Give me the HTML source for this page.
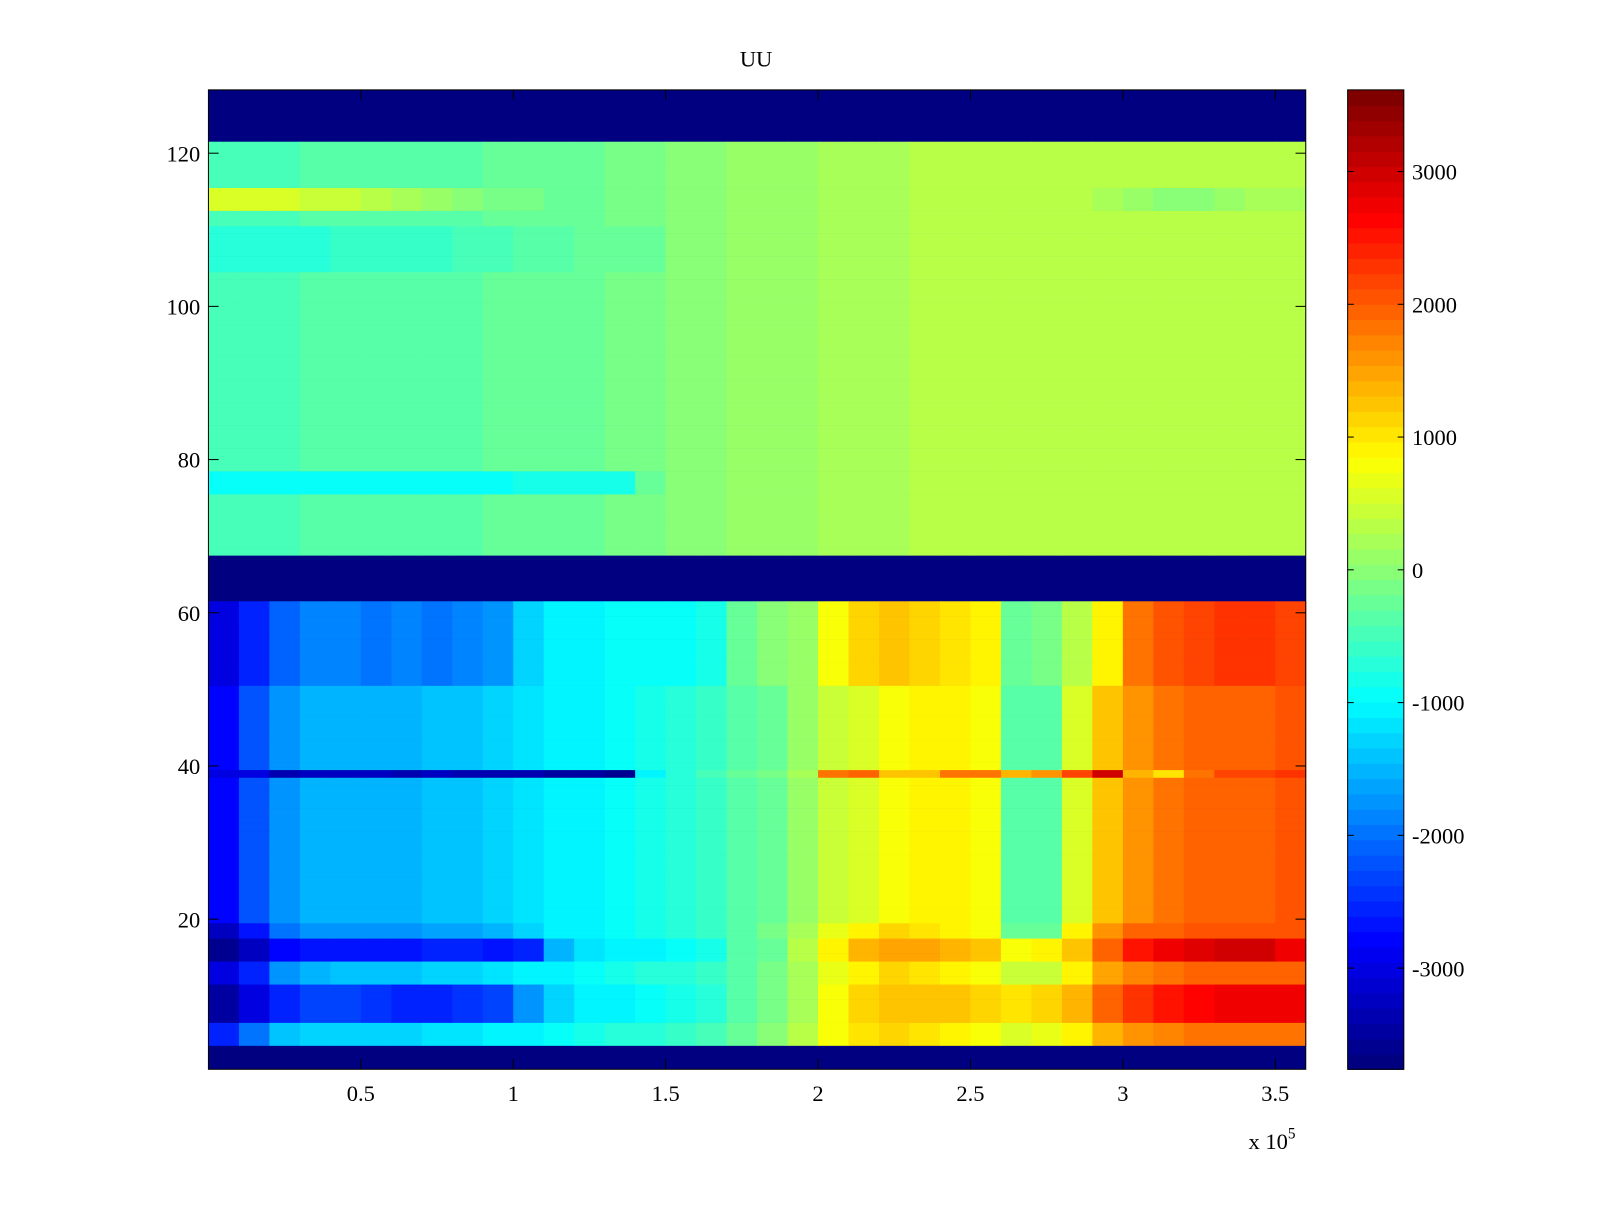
<!DOCTYPE html>
<html><head><meta charset="utf-8"><style>
body{margin:0;background:#fff;}
svg text{font-family:"Liberation Serif",serif;font-size:22px;fill:#000;}
</style></head><body>
<svg id="fig" width="1600" height="1200" viewBox="0 0 1566 1175" preserveAspectRatio="none" xmlns="http://www.w3.org/2000/svg">
<rect width="1566" height="1175" fill="#fff"/>
<text x="740" y="65" text-anchor="middle">UU</text>
<g id="cells"></g>
<g id="cbar"></g>
<g id="axes"></g>
<text x="1222" y="1125">x 10<tspan dy="-10" font-size="15">5</tspan></text>
</svg>
<script>
const vMin = -3762, vMax = 3615;
const nRows = 128;
const xTicks = [0.5,1,1.5,2,2.5,3,3.5];
const xTickLabels = ["0.5","1","1.5","2","2.5","3","3.5"];
const yTicks = [20,40,60,80,100,120];
const cbTicks = [-3000,-2000,-1000,0,1000,2000,3000];
const colStart = 0, colWidth = 0.1;
const bandRows = [
 [4,6],[7,11],[12,14],[15,17],[18,19],[20,36],[37,38],[39,39],[40,50],[51,61],
 [68,75],[76,78],[79,104],[105,110],[111,112],[113,115],[116,121]
];
const general = [-2800,-2200,-1700,-1500,-1500,-1500,-1500,-1400,-1400,-1300,-1200,-1100,-1000,-900,-800,-700,-600,-400,-200,100,400,600,800,900,900,800,-400,-400,600,1300,1600,1800,1900,2000,2000,2100];
const upper = [-500,-450,-450,-400,-400,-400,-400,-350,-350,-300,-300,-250,-200,-150,-100,-50,0,50,100,150,200,250,250,300,300,300,350,350,350,350,350,350,350,350,350,350];
const bandValues = [
 [-2500,-2000,-1400,-1300,-1300,-1300,-1300,-1200,-1200,-1100,-1000,-900,-800,-700,-700,-600,-500,-300,0,300,800,1000,1100,1000,900,800,600,700,900,1400,1600,1700,1800,1800,1800,1800],
 [-3500,-3000,-2500,-2300,-2300,-2400,-2500,-2500,-2400,-2300,-1700,-1300,-1100,-1000,-900,-800,-700,-400,-100,200,800,1100,1300,1300,1200,1100,1000,1100,1400,2000,2300,2500,2600,2700,2700,2700],
 [-3000,-2500,-1800,-1500,-1400,-1400,-1400,-1300,-1300,-1200,-1100,-1000,-900,-800,-700,-700,-600,-400,-100,200,700,900,1100,1000,900,800,500,500,900,1500,1700,1800,1900,1900,1900,1900],
 [-3600,-3200,-2800,-2700,-2700,-2700,-2700,-2600,-2600,-2700,-2500,-1500,-1200,-1100,-1000,-900,-800,-400,-200,300,900,1400,1500,1500,1400,1200,800,900,1200,2000,2500,2700,2900,3000,3000,2800],
 [-3200,-2700,-2000,-1800,-1700,-1700,-1700,-1600,-1600,-1500,-1300,-1100,-1000,-900,-800,-700,-600,-400,-100,200,700,900,1100,1000,900,800,-300,-300,900,1600,1900,2000,2100,2100,2100,2100],
 general,
 general,
 [-3000,-3000,-3400,-3300,-3200,-3300,-3400,-3300,-3400,-3400,-3400,-3500,-3500,-3600,-1000,-700,-500,-300,-100,200,1800,2000,1200,1300,1800,1800,1400,1600,2200,3000,1400,1000,1800,2200,2200,2300],
 general,
 [-3000,-2600,-2100,-1900,-1900,-2000,-1900,-2000,-1900,-1700,-1300,-1100,-1000,-900,-900,-900,-800,-300,0,100,800,1100,1200,1100,1000,900,-200,-100,300,900,1800,2100,2200,2300,2300,2200],
 upper,
 [-900,-900,-900,-900,-900,-900,-900,-900,-900,-900,-850,-800,-800,-800,-300,-50,0,50,100,150,200,250,250,300,300,300,350,350,350,350,350,350,350,350,350,350],
 upper,
 [-700,-700,-650,-650,-600,-600,-600,-550,-500,-450,-400,-350,-300,-250,-200,-50,0,50,100,150,200,250,250,300,300,300,350,350,350,350,350,350,350,350,350,350],
 upper,
 [600,600,550,500,400,300,200,100,0,-100,-150,-200,-200,-150,-100,-50,0,50,100,150,200,250,250,300,300,300,350,350,300,200,100,0,0,100,200,200],
 upper
];

const PX0=204, PX1=1278, PY0=88, PY1=1047;
function xPix(x){ return PX0 + (x-0)/(3.6-0)*(PX1-PX0); }
function yPix(r){ return 1050 - r*7.5; }
function cbY(v){ return PY1 - (v-vMin)/(vMax-vMin)*(PY1-PY0); }
function jet(t){
  t=Math.max(0,Math.min(1,t));
  t=Math.floor(t*63.999)/63;
  const r=Math.max(0,Math.min(1,1.5-Math.abs(4*t-3)));
  const g=Math.max(0,Math.min(1,1.5-Math.abs(4*t-2)));
  const b=Math.max(0,Math.min(1,1.5-Math.abs(4*t-1)));
  return `rgb(${Math.round(r*255)},${Math.round(g*255)},${Math.round(b*255)})`;
}
function col(v){ return jet((v-vMin)/(vMax-vMin)); }
const NS="http://www.w3.org/2000/svg";
const cells=document.getElementById('cells');
const bg=document.createElementNS(NS,'rect');


bg.setAttribute('x',PX0);bg.setAttribute('y',PY0);bg.setAttribute('width',PX1-PX0);bg.setAttribute('height',PY1-PY0);bg.setAttribute('fill',col(vMin));
cells.appendChild(bg);
bandRows.forEach((br,bi)=>{
  const vals=bandValues[bi];
  for(let r=br[0];r<=br[1];r++){
    vals.forEach((v,ci)=>{
      const x0=xPix(colStart+ci*colWidth), x1=xPix(colStart+(ci+1)*colWidth);
      const rc=document.createElementNS(NS,'rect');
      
      
      rc.setAttribute('x',x0.toFixed(2));rc.setAttribute('y',yPix(r+0.5).toFixed(2));
      rc.setAttribute('width',(x1-x0+0.5).toFixed(2));rc.setAttribute('height','7.8');
      rc.setAttribute('fill',col(v));
      cells.appendChild(rc);
    });
  }
});
const cb=document.getElementById('cbar');
const CX0=1319,CX1=1374;
for(let i=0;i<64;i++){
  const v0=vMin+(vMax-vMin)*i/64, v1=vMin+(vMax-vMin)*(i+1)/64;
  const rc=document.createElementNS(NS,'rect');
  
  
  rc.setAttribute('x',CX0);rc.setAttribute('y',cbY(v1));rc.setAttribute('width',CX1-CX0);rc.setAttribute('height',cbY(v0)-cbY(v1)+0.6);
  rc.setAttribute('fill',col((v0+v1)/2));
  cb.appendChild(rc);
}
const cbo=document.createElementNS(NS,'rect');


cbo.setAttribute('x',CX0);cbo.setAttribute('y',PY0);cbo.setAttribute('width',CX1-CX0);cbo.setAttribute('height',PY1-PY0);cbo.setAttribute('fill','none');cbo.setAttribute('stroke','#000');
cb.appendChild(cbo);
cbTicks.forEach(v=>{
  const y=cbY(v);
  [[CX0,CX0+6],[CX1-6,CX1]].forEach(p=>{
    const l=document.createElementNS(NS,'line');
    
    
    l.setAttribute('x1',p[0]);l.setAttribute('x2',p[1]);l.setAttribute('y1',y);l.setAttribute('y2',y);l.setAttribute('stroke','#000');
    cb.appendChild(l);
  });
  const t=document.createElementNS(NS,'text');
  
  
  t.setAttribute('x',1382);t.setAttribute('y',y+8);t.textContent=String(v);
  cb.appendChild(t);
});
const ax=document.getElementById('axes');
const fr=document.createElementNS(NS,'rect');


fr.setAttribute('x',PX0);fr.setAttribute('y',PY0);fr.setAttribute('width',PX1-PX0);fr.setAttribute('height',PY1-PY0);fr.setAttribute('fill','none');fr.setAttribute('stroke','#000');
ax.appendChild(fr);
xTicks.forEach((v,i)=>{
  const x=xPix(v);
  [[PY1-10,PY1],[PY0,PY0+10]].forEach(p=>{
    const l=document.createElementNS(NS,'line');
    
    
    l.setAttribute('x1',x);l.setAttribute('x2',x);l.setAttribute('y1',p[0]);l.setAttribute('y2',p[1]);l.setAttribute('stroke','#000');
    ax.appendChild(l);
  });
  const t=document.createElementNS(NS,'text');
  
  
  t.setAttribute('x',x);t.setAttribute('y',1078);t.setAttribute('text-anchor','middle');t.textContent=xTickLabels[i];
  ax.appendChild(t);
});
yTicks.forEach(v=>{
  const y=yPix(v);
  [[PX0,PX0+10],[PX1-10,PX1]].forEach(p=>{
    const l=document.createElementNS(NS,'line');
    
    
    l.setAttribute('x1',p[0]);l.setAttribute('x2',p[1]);l.setAttribute('y1',y);l.setAttribute('y2',y);l.setAttribute('stroke','#000');
    ax.appendChild(l);
  });
  const t=document.createElementNS(NS,'text');
  
  
  t.setAttribute('x',196);t.setAttribute('y',y+8);t.setAttribute('text-anchor','end');t.textContent=String(v);
  ax.appendChild(t);
});
</script>
</body></html>
